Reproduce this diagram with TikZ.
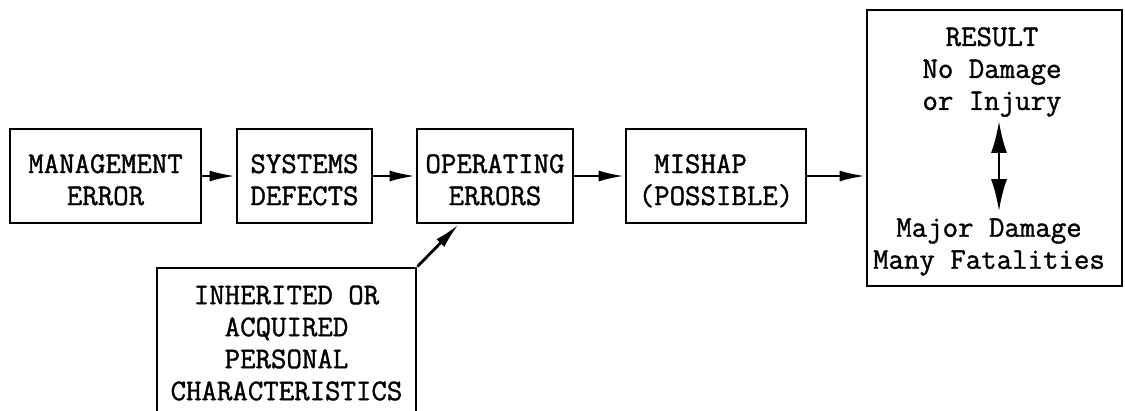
\documentclass[tikz,border=0pt]{standalone}
\usepackage{fontspec}
\setmonofont{Latin Modern Mono}[BoldFont={Latin Modern Mono}, BoldFeatures={FakeBold=1.2}]
\usepackage{tikz}
\usetikzlibrary{calc,positioning,arrows.meta}
\tikzset{
  line/.style={-{Latex[length=26pt,width=11pt]}, line width=2.8pt},
  bigline/.style={{Latex[length=32pt,width=16pt]}-{Latex[length=32pt,width=16pt]}, line width=2.8pt},
  box/.style={draw, line width=2.8pt, align=center, inner sep=0pt},
  chainbox/.style={box, minimum height=94pt, text height=62pt, text depth=4pt},
  txt/.style={align=center, inner sep=0pt}
}
\begin{document}
\begin{tikzpicture}[x=1pt, y=-1pt, font=\ttfamily\bfseries\fontsize{30}{32}\selectfont]
  \useasboundingbox (0,0) rectangle (1125,410);
  % main chain
  \node[chainbox, minimum width=191pt] (mgmt) at (105.5,176) {MANAGEMENT\\ERROR};
  \node[chainbox, minimum width=135pt] (sys)  at (304.5,176) {SYSTEMS\\DEFECTS};
  \node[chainbox, minimum width=156pt] (oper) at (495,176)   {OPERATING\\ERRORS};
  \node[chainbox, minimum width=180pt, align=left] (mishap) at (716,176) {\ MISHAP\\(POSSIBLE)};
  \node[box, minimum width=255pt, minimum height=276pt] (result) at (994.5,148) {};
  \node[box, minimum width=259pt, minimum height=150pt] (pers) at (286.5,343)
    {INHERITED OR\\ACQUIRED\\PERSONAL\\CHARACTERISTICS};
  % result texts
  \node[txt] (good) at (992,72) {RESULT\\No Damage\\or Injury};
  \node[txt] (bad)  at (989,247) {Major Damage\\Many Fatalities};
  % wiring
  \draw[line] (mgmt.east) -- (sys.west);
  \draw[line] (sys.east) -- (oper.west);
  \draw[line] (oper.east) -- (mishap.west);
  \draw[line] (mishap.east) -- (mishap.east -| result.west);
  \draw[line] (pers.north east) -- ($(oper.south west)+(43,0)$);
  \draw[bigline] ($(good.south)+(7,4)$) -- ($(bad.north)+(10,-7)$);
\end{tikzpicture}
\end{document}
